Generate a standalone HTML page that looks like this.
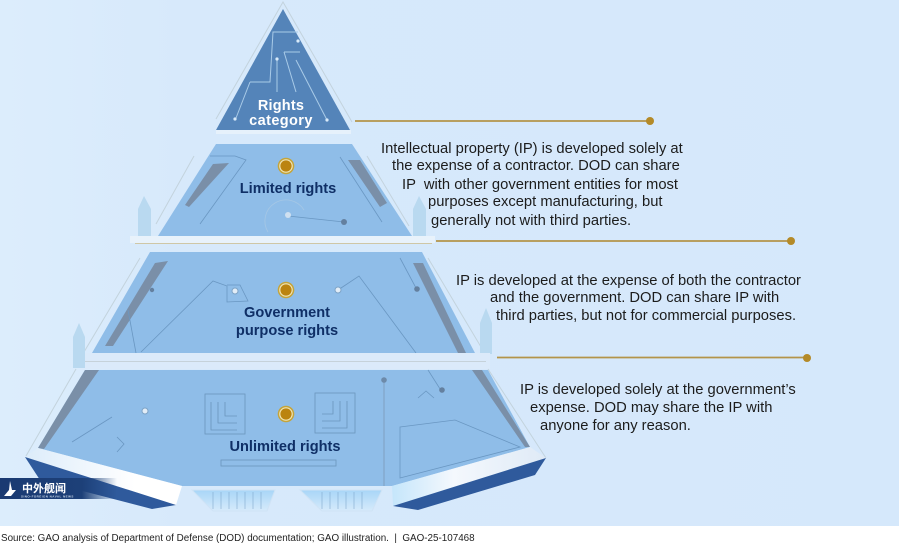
<!DOCTYPE html>
<html><head><meta charset="utf-8"><style>
html,body{margin:0;padding:0;background:#fff}
svg{display:block}
.b{font-family:"Liberation Sans",sans-serif;font-size:14.75px;fill:#1c1c1c}
.n{font-family:"Liberation Sans",sans-serif;font-size:14.6px;font-weight:bold;fill:#0f2f66;text-anchor:middle}
.l{fill:none;stroke:#6a97c2;stroke-width:.8}
.f{fill:none;stroke:#c3d3dd;stroke-width:1}
</style></head><body>
<svg width="899" height="544" viewBox="0 0 899 544" xmlns="http://www.w3.org/2000/svg">
<defs>
<linearGradient id="bg" x1="0" x2="1"><stop offset="0" stop-color="#dcedfc"/><stop offset=".2" stop-color="#d7e9fb"/><stop offset="1" stop-color="#d5e8fb"/></linearGradient>
<linearGradient id="w1" x1="0" x2="1"><stop offset="0" stop-color="#dcecfa"/><stop offset=".7" stop-color="#fff"/><stop offset="1" stop-color="#fff"/></linearGradient>
<linearGradient id="w2" x1="0" x2="1"><stop offset="0" stop-color="#c5e6fb"/><stop offset=".4" stop-color="#f4f8fd"/><stop offset="1" stop-color="#dfeaf6"/></linearGradient>
<linearGradient id="lg" x1="0" x2="1"><stop offset="0" stop-color="#1a3a72"/><stop offset=".7" stop-color="#1d4078"/><stop offset="1" stop-color="#1d4078" stop-opacity="0"/></linearGradient>
<linearGradient id="foot" x1="0" x2="0" y1="0" y2="1"><stop offset="0" stop-color="#a8d5f7"/><stop offset="1" stop-color="#d6eafb"/></linearGradient>
</defs>
<rect width="899" height="526" fill="url(#bg)"/>
<rect y="526" width="899" height="18" fill="#fff"/>

<!-- top triangle -->
<path d="M216 119 L283 2 L352 122" class="f"/>
<polygon points="283,9 350,130 216,130" fill="#5484b9"/>
<rect x="216" y="130" width="135" height="4" fill="#e6f1fb"/>
<g fill="none" stroke="#a9cbe8" stroke-width="1">
<path d="M250 82 H270 L273 32 H298"/>
<path d="M277 60 L277 92"/>
<path d="M284 52 H300 M284 52 L296 92"/>
<path d="M296 60 L327 120"/>
<path d="M250 82 L236 118"/>
</g>
<g fill="#d9ebfa"><circle cx="235" cy="119" r="1.6"/><circle cx="327" cy="120" r="1.6"/><circle cx="277" cy="59" r="1.6"/><circle cx="298" cy="41" r="1.6"/></g>
<text x="281" y="110" text-anchor="middle" style="font:bold 14.500px 'Liberation Sans',sans-serif;fill:#fff;letter-spacing:.2px">Rights</text>
<text x="281" y="125" text-anchor="middle" style="font:bold 14.500px 'Liberation Sans',sans-serif;fill:#fff;letter-spacing:.4px">category</text>

<!-- limited -->
<path d="M156 224 L194 156 M367 156 L409 226" class="f"/>
<polygon points="216,144 352,144 412,236 158,236" fill="#8fbde8"/>
<polygon points="213,164 229,163 189,207 185,205" fill="#7a8fa8"/>
<polygon points="348,160 360,160 387,203 380,207" fill="#7a8fa8"/>
<path class="l" d="M210 156 H235 L246 160 L200 224"/>
<path class="l" d="M340 157 L382 222"/>
<path class="l" d="M288 216 L344 222"/>
<path d="M268 232 a20 20 0 0 1 36 -22" fill="none" stroke="#a5c7e5" stroke-width=".8"/>
<circle cx="288" cy="215" r="3" fill="#cfe0f0"/><circle cx="344" cy="222" r="3" fill="#64809f"/>
<g><circle cx="286" cy="166" r="8.300" fill="#c5a43a"/><circle cx="286" cy="166" r="6.800" fill="#f0e6b8"/><circle cx="286" cy="166" r="5.600" fill="#bb8410"/></g>
<text class="n" x="288" y="193">Limited rights</text>
<path d="M138 242 V209 L144 196 L151 209 V242Z" fill="#b9d9f0"/>
<path d="M413 242 V209 L419 196 L426 209 V242Z" fill="#b9d9f0"/>
<rect x="130" y="236" width="305" height="7" fill="#e8f2fb"/>
<line x1="135" y1="243.500" x2="432" y2="243.500" stroke="#cfc7a6"/>

<!-- government -->
<path d="M84 352 L140 258 M428 258 L484 352" class="f"/>
<polygon points="150,252 422,252 475,353 92,353" fill="#8fbde8"/>
<polygon points="155,263 168,261 113,346 105,346" fill="#7a8fa8"/>
<polygon points="413,263 423,263 466,353 458,353" fill="#7a8fa8"/>
<path class="l" d="M141 352 L213 281 L227 286 V302 L248 301 L240 285 H227"/>
<path class="l" d="M338 290 L359 276 L416 353"/>
<path class="l" d="M400 258 L416 288"/>
<path class="l" d="M128 310 L136 353"/>
<circle cx="235" cy="291" r="3" fill="#e2edf7" stroke="#7da3c6"/><circle cx="338" cy="290" r="3" fill="#e2edf7" stroke="#7da3c6"/>
<circle cx="152" cy="290" r="2.200" fill="#64809f"/><circle cx="417" cy="289" r="2.800" fill="#64809f"/>
<g><circle cx="286" cy="290" r="8.300" fill="#c5a43a"/><circle cx="286" cy="290" r="6.800" fill="#f0e6b8"/><circle cx="286" cy="290" r="5.600" fill="#bb8410"/></g>
<text class="n" x="287" y="317">Government</text>
<text class="n" x="287" y="335">purpose rights</text>
<path d="M73 368 V337 L79 323 L85 337 V368Z" fill="#b9d9f0"/>
<path d="M480 354 V323 L486 308 L492 323 V354Z" fill="#b9d9f0"/>
<rect x="85" y="353" width="405" height="16" fill="#dbeafa"/>
<line x1="85" y1="361.500" x2="486" y2="361.500" stroke="#c6d2da"/>

<!-- unlimited -->
<path d="M26 456 L76 369 M488 369 L546 458" class="f"/>
<polygon points="85,370 488,370 530,447 392,486 182,486 38,448" fill="#8fbde8"/>
<polygon points="85,370 99,370 44,449 38,448" fill="#7a8fa8"/>
<polygon points="472,370 482,370 530,447 525,447" fill="#7a8fa8"/>
<path class="l" d="M72 442 L112 417 M117 437 L124 444 L117 452"/>
<path class="l" d="M400 427 L455 420 L520 447 L400 478 Z"/>
<path class="l" d="M418 398 L426 391 L434 398"/>
<path d="M384 380 V486" stroke="#7f9fc0" stroke-width="1" fill="none"/>
<path class="l" d="M428 370 L442 392"/>
<circle cx="384" cy="380" r="2.800" fill="#6d8aa9"/><circle cx="442" cy="390" r="2.800" fill="#64809f"/>
<circle cx="145" cy="411" r="3" fill="#e2edf7" stroke="#7da3c6"/>
<g fill="none" stroke="#6b95bc" stroke-width=".8">
<rect x="205" y="394" width="40" height="40"/>
<path d="M211 402 V430 H237 M218 402 V423 H237 M225 402 V416 H237"/>
<rect x="315" y="393" width="40" height="40"/>
<path d="M347 401 V428 H322 M340 401 V421 H322 M333 401 V414 H322"/>
<rect x="221" y="460" width="115" height="6"/>
</g>
<g><circle cx="286" cy="414" r="8.300" fill="#c5a43a"/><circle cx="286" cy="414" r="6.800" fill="#f0e6b8"/><circle cx="286" cy="414" r="5.600" fill="#bb8410"/></g>
<text class="n" x="285" y="451">Unlimited rights</text>

<!-- frame -->
<polygon points="25,457 38,448 182,486 176,505" fill="url(#w1)"/>
<polygon points="25,457 176,505 152,509 40,480" fill="#2f5a9c"/>
<polygon points="392,486 530,447 546,458 393,506" fill="url(#w2)"/>
<polygon points="546,458 393,506 418,510 535,475" fill="#2f5a9c"/>

<!-- feet -->
<polygon points="192,490 275,490 267,511 213,511" fill="url(#foot)" stroke="#cfe3f5"/>
<polygon points="300,490 382,490 372,511 322,511" fill="url(#foot)" stroke="#cfe3f5"/>
<g stroke="#7da6cb" stroke-width=".7" opacity=".8"><path d="M213 492V509M221 492V509M229 492V509M237 492V509M245 492V509M253 492V509M261 492V509"/><path d="M322 492V509M330 492V509M338 492V509M346 492V509M354 492V509M362 492V509"/></g>

<!-- logo -->
<rect x="0" y="478" width="117" height="21" fill="url(#lg)"/>
<path d="M10 481 L12 490 H16 L11 496 H4 L9 490Z" fill="#fff"/>
<text x="22" y="492" style="font:bold 11px 'Noto Sans CJK SC',sans-serif;fill:#fff">中外舰闻</text>
<text x="21" y="497.500" style="font:bold 3px 'Liberation Sans',sans-serif;fill:#cfdcec;letter-spacing:.45px">SINO-FOREIGN NAVAL NEWS</text>

<!-- leaders -->
<g stroke="#b3944a" stroke-width="1.800"><line x1="355" y1="121" x2="650" y2="121"/><line x1="436" y1="241" x2="791" y2="241"/><line x1="497" y1="357.500" x2="807" y2="357.500"/></g>
<g fill="#b48a28"><circle cx="650" cy="121" r="4"/><circle cx="791" cy="241" r="4"/><circle cx="807" cy="358" r="4"/></g>

<!-- body -->
<text class="b" x="381" y="153">Intellectual property (IP) is developed solely at</text>
<text class="b" x="392" y="170">the expense of a contractor. DOD can share</text>
<text class="b" x="402" y="189">IP &#160;with other government entities for most</text>
<text class="b" x="428" y="206">purposes except manufacturing, but</text>
<text class="b" x="431" y="225">generally not with third parties.</text>
<text class="b" x="456" y="285">IP is developed at the expense of both the contractor</text>
<text class="b" x="490" y="302">and the government. DOD can share IP with</text>
<text class="b" x="496" y="320">third parties, but not for commercial purposes.</text>
<text class="b" x="520" y="394">IP is developed solely at the government’s</text>
<text class="b" x="530" y="412">expense. DOD may share the IP with</text>
<text class="b" x="540" y="430">anyone for any reason.</text>
<text x="1" y="541" style="font:9.85px 'Liberation Sans',sans-serif;fill:#222">Source: GAO analysis of Department of Defense (DOD) documentation; GAO illustration. &#160;| &#160;GAO-25-107468</text>
</svg>
</body></html>
